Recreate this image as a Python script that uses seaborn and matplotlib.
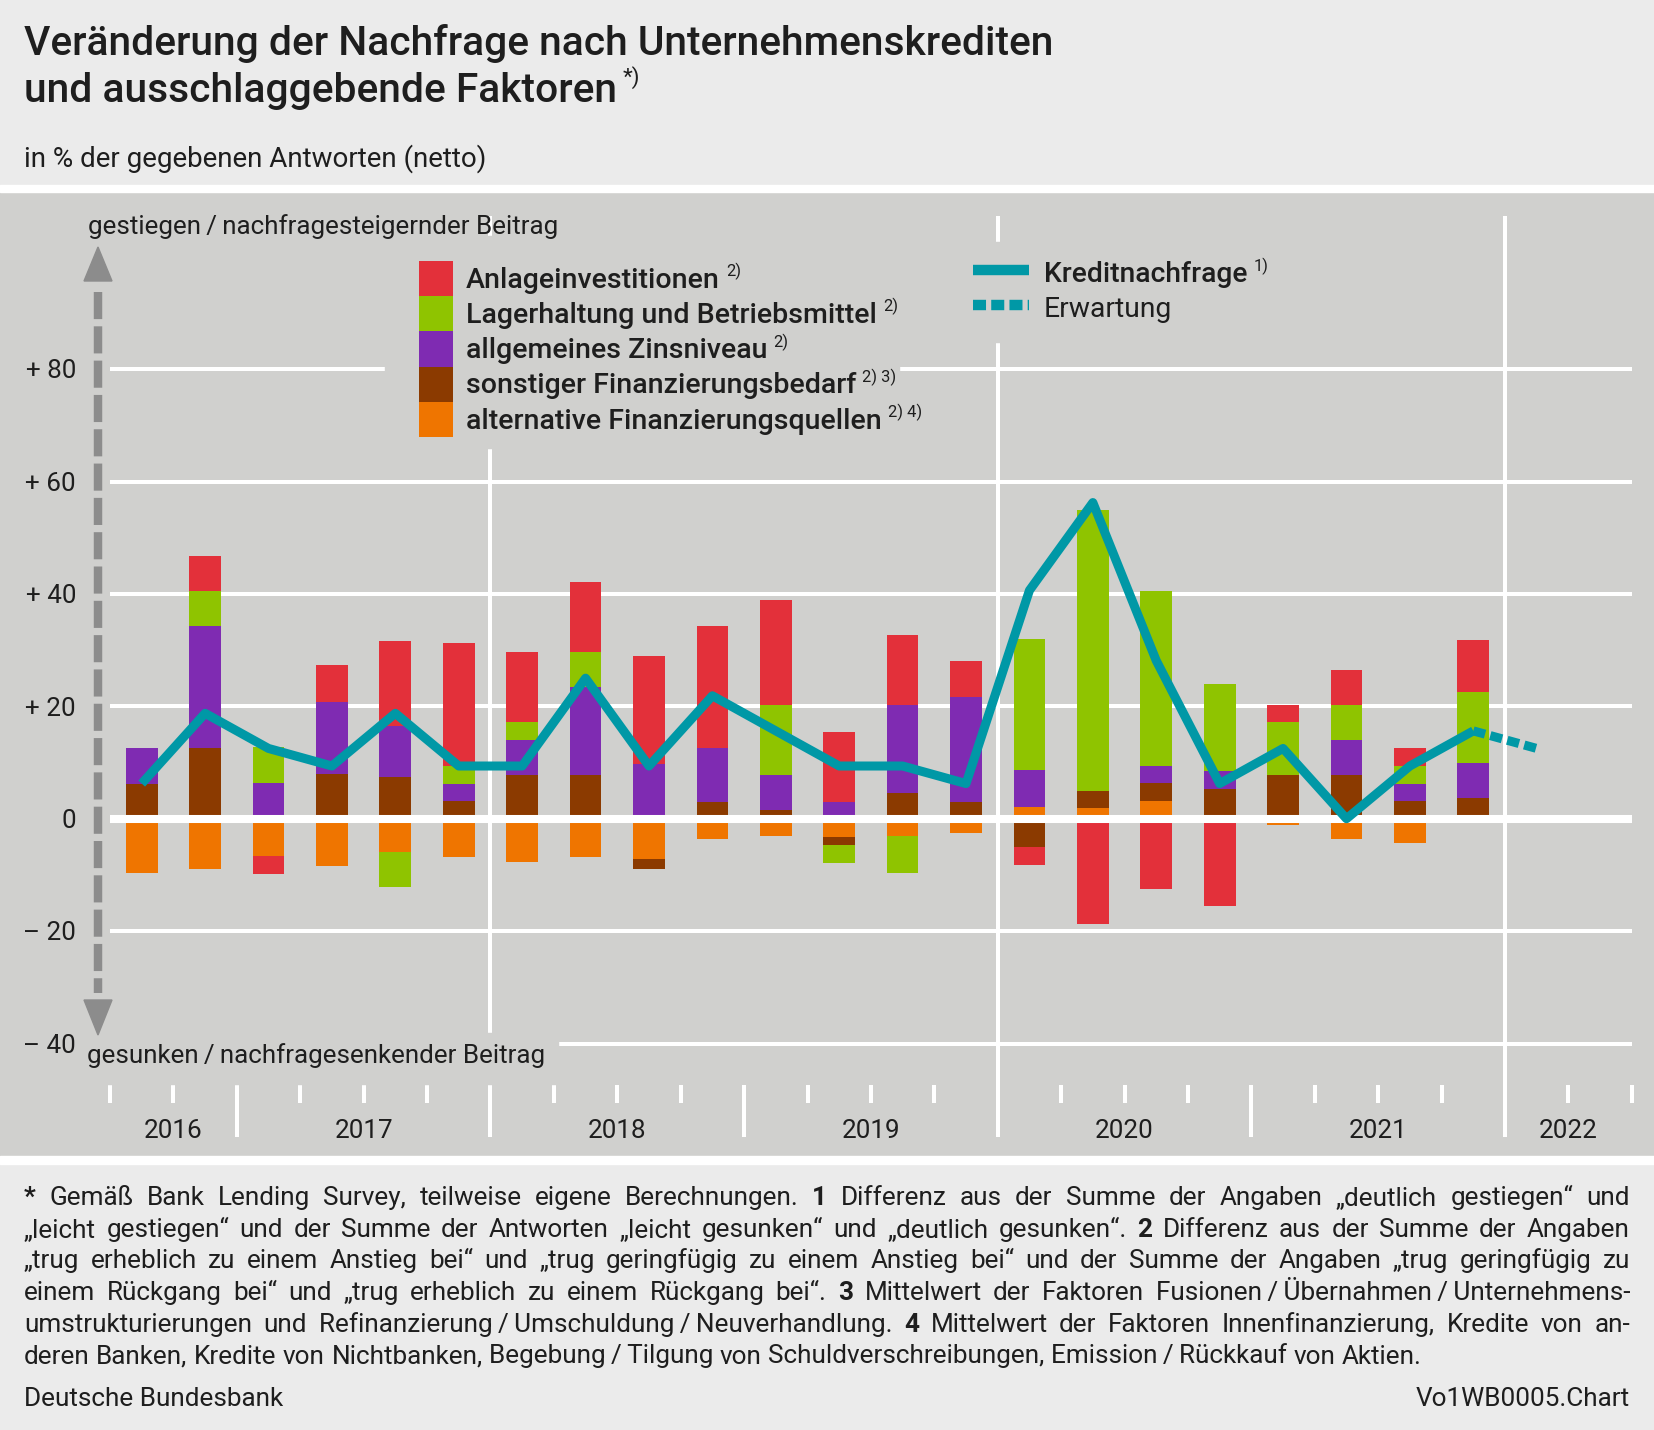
import matplotlib
matplotlib.use('Agg')
import matplotlib.pyplot as plt
import matplotlib.transforms as mtransforms
from matplotlib.patches import Rectangle, Polygon
from matplotlib import font_manager as fm
import numpy as np
import pandas as pd
import seaborn as sns

# ---------------- data ----------------
quarters = ['2016 Q3', '2016 Q4',
            '2017 Q1', '2017 Q2', '2017 Q3', '2017 Q4',
            '2018 Q1', '2018 Q2', '2018 Q3', '2018 Q4',
            '2019 Q1', '2019 Q2', '2019 Q3', '2019 Q4',
            '2020 Q1', '2020 Q2', '2020 Q3', '2020 Q4',
            '2021 Q1', '2021 Q2', '2021 Q3', '2021 Q4']
kreditnachfrage = [6.25, 18.75, 12.5, 9.375, 18.75, 9.375,
                   9.375, 25.0, 9.375, 21.875,
                   15.625, 9.375, 9.375, 6.25,
                   40.625, 56.25, 28.125, 6.25,
                   12.5, 0.0, 9.375, 15.625]
erwartung_quarters = ['2021 Q4', '2022 Q1']
erwartung = [15.625, 12.5]

anlageinvestitionen = [0.0, 6.2, -3.2, 6.5, 15.2, 21.8,
                       12.4, 12.4, 19.3, 21.8,
                       18.8, 12.5, 12.4, 6.3,
                       -3.3, -18.8, -12.5, -15.6,
                       3.0, 6.3, 3.1, 9.3]
lagerhaltung = [0.0, 6.3, 6.45, 0.0, -6.2, 3.2,
                3.2, 6.3, 0.0, 0.0,
                12.4, -3.2, -6.5, 0.0,
                23.2, 49.9, 31.1, 15.6,
                9.4, 6.2, 3.2, 12.5]
zinsniveau = [6.3, 21.8, 6.35, 12.8, 9.0, 3.1,
              6.3, 15.7, 9.7, 9.5,
              6.3, 3.0, 15.7, 18.7,
              6.7, 0.0, 3.1, 3.2,
              0.0, 6.3, 3.1, 6.25]
sonstiger_bedarf = [6.2, 12.5, 0.0, 8.0, 7.5, 3.1,
                    7.7, 7.7, -1.7, 3.0,
                    1.5, -1.5, 4.6, 3.0,
                    -5.0, 3.1, 3.1, 5.2,
                    7.8, 7.7, 3.1, 3.75]
alternative_quellen = [-9.6, -8.9, -6.6, -8.5, -6.0, -6.9,
                       -7.7, -6.9, -7.2, -3.7,
                       -3.1, -3.2, -3.1, -2.5,
                       2.0, 1.9, 3.2, 0.0,
                       -1.2, -3.7, -4.3, 0.0]

years = ['2016', '2017', '2018', '2019', '2020', '2021', '2022']
ytick_values = [-40, -20, 0, 20, 40, 60, 80]
ytick_labels = ['\u2013 40', '\u2013 20', '0', '+ 20', '+ 40', '+ 60', '+ 80']

legend_labels = ['Anlageinvestitionen', 'Lagerhaltung und Betriebsmittel',
                 'allgemeines Zinsniveau', 'sonstiger Finanzierungsbedarf',
                 'alternative Finanzierungsquellen']
legend_sups = ['2)', '2)', '2)', '2) 3)', '2) 4)']

# ---------------- style ----------------
RED = '#e3303a'
GREEN = '#8fc400'
PURPLE = '#7f2bb2'
BROWN = '#8b3a00'
ORANGE = '#ef7500'
TEAL = '#0098a6'
PLOTBG = '#d0d0ce'
HEADBG = '#ebebeb'
TXT = '#1e1e1e'
ARROW = '#8c8c8c'

sns.set_style('white')
avail = {f.name for f in fm.fontManager.ttflist}
FONT = 'Roboto' if 'Roboto' in avail else ('Open Sans' if 'Open Sans' in avail else 'DejaVu Sans')
plt.rcParams['font.family'] = [FONT, 'DejaVu Sans']
plt.rcParams['text.color'] = TXT

W, H = 1654, 1430
fig = plt.figure(figsize=(W / 100, H / 100), dpi=100, facecolor=HEADBG)


def px_rect(x0, y0, x1, y1):
    return [x0 / W, 1 - y1 / H, (x1 - x0) / W, (y1 - y0) / H]


PLOT_TOP, PLOT_BOT = 192, 1156
ax = fig.add_axes(px_rect(0, PLOT_TOP, W, PLOT_BOT))
ax.set_facecolor(PLOTBG)
for sp in ax.spines.values():
    sp.set_visible(False)

ov = fig.add_axes([0, 0, 1, 1])
ov.set_xlim(0, W)
ov.set_ylim(H, 0)
ov.axis('off')
ov.set_zorder(5)

# pixel mapping of the chart (quarter index -> px, value -> px)
X0, DX = 141.7, 63.41
Y0, DY = 818.7, 5.62
XLIM = ((0 - X0) / DX, (W - X0) / DX)
YLIM = ((Y0 - PLOT_BOT) / DY, (Y0 - PLOT_TOP) / DY)
ax.set_xlim(*XLIM)
ax.set_ylim(*YLIM)
ax.set_autoscale_on(False)

trans = mtransforms.blended_transform_factory(ax.transData, ov.transData)

n = len(quarters)
x = np.arange(n)
xl, xr = -0.5, n + 1.5

# ---------------- bars ----------------
series = [(alternative_quellen, ORANGE), (sonstiger_bedarf, BROWN),
          (zinsniveau, PURPLE), (lagerhaltung, GREEN), (anlageinvestitionen, RED)]
pos_base = np.zeros(n)
neg_base = np.zeros(n)
for vals, col in series:
    v = np.array(vals, dtype=float)
    pos = np.where(v > 0, v, 0)
    neg = np.where(v < 0, v, 0)
    ax.bar(x, pos, 0.5, bottom=pos_base, color=col, linewidth=0, zorder=2)
    ax.bar(x, neg, 0.5, bottom=neg_base, color=col, linewidth=0, zorder=2)
    pos_base += pos
    neg_base += neg

# ---------------- grid ----------------
ax.hlines([v for v in ytick_values if v != 0], xl, xr, color='white', lw=2.9, zorder=1)
ax.hlines(0, xl, xr, color='white', lw=5.8, zorder=3)

first_year = 2016
year_start = {int(y): (int(y) - first_year) * 4 - 2 for y in years}  # index of Q1
bounds = np.arange(xl, xr + 0.01, 1.0)
ax.vlines(bounds, 1085, 1103, transform=trans, color='white', lw=2.9, zorder=1)
sep = [year_start[int(y)] - 0.5 for y in years[1:]]
full = [s for s in sep if int(round(s + 0.5)) in (year_start[2018], year_start[2020], year_start[2022])]
short = [s for s in sep if s not in full]
ax.vlines(short, 1085, 1137, transform=trans, color='white', lw=2.9, zorder=1)
ax.vlines(full, 216, 1137, transform=trans, color='white', lw=2.9, zorder=1)

# ---------------- lines ----------------
df = pd.DataFrame({'pos': x, 'wert': kreditnachfrage})
sns.lineplot(data=df, x='pos', y='wert', ax=ax, color=TEAL, lw=6.5, zorder=4,
             solid_capstyle='butt', solid_joinstyle='round')
df2 = pd.DataFrame({'pos': [quarters.index(erwartung_quarters[0]), n], 'wert': erwartung})
sns.lineplot(data=df2, x='pos', y='wert', ax=ax, color=TEAL, lw=6.5, zorder=4,
             linestyle=(0, (1.35, 0.6)), dash_capstyle='butt')
ax.set_xlabel('')
ax.set_ylabel('')
ax.set_xticks([])
ax.set_yticks([])
ax.set_xlim(*XLIM)
ax.set_ylim(*YLIM)

# ---------------- overlay: bands, masks, arrow ----------------
ov.add_patch(Rectangle((0, 185), W, 7, color='white', zorder=1))
ov.add_patch(Rectangle((0, 1156), W, 8, color='white', zorder=1))
ov.add_patch(Rectangle((385, 236), 899 - 385, 448 - 236, color=PLOTBG, zorder=1))
ov.add_patch(Rectangle((958, 242), 300, 100, color=PLOTBG, zorder=1))
ov.add_patch(Rectangle((80, 1033), 478, 51, color=PLOTBG, zorder=1))

ov.plot([98, 98], [292, 993], color=ARROW, lw=6.1, linestyle=(0, (3.2, 0.85)),
        dash_capstyle='butt', zorder=2)
ov.add_patch(Polygon([[84, 281], [112, 281], [98, 247]], closed=True, color=ARROW, zorder=2))
ov.add_patch(Polygon([[84, 1000], [112, 1000], [98, 1035]], closed=True, color=ARROW, zorder=2))

# ---------------- text helpers ----------------
R = fig.canvas.get_renderer()


def tw(t):
    return t.get_window_extent(renderer=R).width


def fitsize(s, width, weight='normal', base=20.0):
    t = ov.text(0, 0, s, fontsize=base, fontweight=weight)
    w = tw(t)
    t.remove()
    return base * width / w


def put(xp, yp, s, size, weight='normal', ha='left', color=TXT, **kw):
    return ov.text(xp, yp, s, fontsize=size, fontweight=weight, ha=ha, va='baseline',
                   color=color, zorder=3, **kw)


def sup(t, yp, s, size, dy, gap=4):
    ext = t.get_window_extent(renderer=R)
    return put(ext.x1 + gap, yp - dy, s, size)


# title
ts = fitsize('Ver\u00e4nderung der Nachfrage nach Unternehmenskrediten', 1031, 'medium')
put(24, 55, 'Ver\u00e4nderung der Nachfrage nach Unternehmenskrediten', ts, 'medium')
t2 = put(24, 102, 'und ausschlaggebende Faktoren', ts, 'medium')
sup(t2, 102, '*)', ts * 0.55, ts * 0.62, gap=6)

ss = fitsize('in % der gegebenen Antworten (netto)', 462)
put(24, 167, 'in % der gegebenen Antworten (netto)', ss)

# axis captions
cs = fitsize('gesunken\u2009/\u2009nachfragesenkender Beitrag', 458)
put(88, 234, 'gestiegen\u2009/\u2009nachfragesteigernder Beitrag', cs)
put(87, 1063, 'gesunken\u2009/\u2009nachfragesenkender Beitrag', cs)

# y tick labels
cap = cs * 100 / 72 * 0.711
for v, lab in zip(ytick_values, ytick_labels):
    put(76, Y0 - v * DY + cap / 2, lab, cs, ha='right')

# year labels
for y in years:
    s0 = max(year_start[int(y)] - 0.5, xl)
    s1 = min(year_start[int(y)] + 3.5, xr)
    ov.text((s0 + s1) / 2, 1138, y, transform=trans, fontsize=cs, ha='center',
            va='baseline', color=TXT, zorder=3)

# legend 1
ls = fitsize(legend_labels[1], 409, 'medium')
sq_cols = [RED, GREEN, PURPLE, BROWN, ORANGE]
for k, (lab, sp, col) in enumerate(zip(legend_labels, legend_sups, sq_cols)):
    top = 260.7 + 35.3 * k
    ov.add_patch(Rectangle((419, top), 34, 35.3, color=col, zorder=2, linewidth=0))
    yb = 287.5 + 35.3 * k
    t = put(466, yb, lab, ls, 'medium')
    sup(t, yb, sp, ls * 0.58, ls * 0.55, gap=6)

# legend 2
ks = fitsize('Kreditnachfrage', 203, 'medium')
ov.plot([973, 1029], [270, 270], color=TEAL, lw=7.5, solid_capstyle='butt', zorder=2)
ov.plot([973, 1029], [305, 305], color=TEAL, lw=7.5, linestyle=(0, (1.25, 0.5)),
        dash_capstyle='butt', zorder=2)
t = put(1044, 282, 'Kreditnachfrage', ks, 'medium')
sup(t, 282, '1)', ks * 0.58, ks * 0.55, gap=6)
put(1044, 317, 'Erwartung', ks, 'normal')

# ---------------- footnotes ----------------
foot_lines = [
    [('*', 'bold'), ('Gem\u00e4\u00df Bank Lending Survey, teilweise eigene Berechnungen.', 'normal'),
     ('1', 'bold'), ('Differenz aus der Summe der Angaben \u201edeutlich gestiegen\u201c und', 'normal')],
    [('\u201eleicht gestiegen\u201c und der Summe der Antworten \u201eleicht gesunken\u201c und \u201edeutlich gesunken\u201c.', 'normal'),
     ('2', 'bold'), ('Differenz aus der Summe der Angaben', 'normal')],
    [('\u201etrug erheblich zu einem Anstieg bei\u201c und \u201etrug geringf\u00fcgig zu einem Anstieg bei\u201c und der Summe der Angaben \u201etrug geringf\u00fcgig zu', 'normal')],
    [('einem R\u00fcckgang bei\u201c und \u201etrug erheblich zu einem R\u00fcckgang bei\u201c.', 'normal'),
     ('3', 'bold'), ('Mittelwert der Faktoren Fusionen\u2009/\u2009\u00dcbernahmen\u2009/\u2009Unternehmens-', 'normal')],
    [('umstrukturierungen und Refinanzierung\u2009/\u2009Umschuldung\u2009/\u2009Neuverhandlung.', 'normal'),
     ('4', 'bold'), ('Mittelwert der Faktoren Innenfinanzierung, Kredite von an-', 'normal')],
    [('deren Banken, Kredite von Nichtbanken, Begebung\u2009/\u2009Tilgung von Schuldverschreibungen, Emission\u2009/\u2009R\u00fcckkauf von Aktien.', 'normal')],
]


def words_of(line):
    out = []
    for seg, wt in line:
        for w in seg.split(' '):
            if w:
                out.append((w, wt))
    return out


last_text = ' '.join(seg for seg, _ in foot_lines[-1])
fs = fitsize(last_text, 1398)
tmp1 = ov.text(0, 0, 'a a', fontsize=fs)
tmp2 = ov.text(0, 0, 'aa', fontsize=fs)
space_w = tw(tmp1) - tw(tmp2)
tmp1.remove()
tmp2.remove()

FX0, FX1 = 24, 1630
for k, line in enumerate(foot_lines):
    yb = 1205 + 31.7 * k
    ws = words_of(line)
    texts = [put(0, yb, w, fs, wt) for w, wt in ws]
    widths = [tw(t) for t in texts]
    if k < len(foot_lines) - 1:
        gap = (FX1 - FX0 - sum(widths)) / (len(ws) - 1)
    else:
        gap = space_w
    xp = FX0
    for t, wdt in zip(texts, widths):
        t.set_x(xp)
        xp += wdt + gap

put(24, 1406, 'Deutsche Bundesbank', fs)
put(1630, 1406, 'Vo1WB0005.Chart', fs, ha='right')

fig.savefig('out.png', dpi=100, facecolor=HEADBG)
